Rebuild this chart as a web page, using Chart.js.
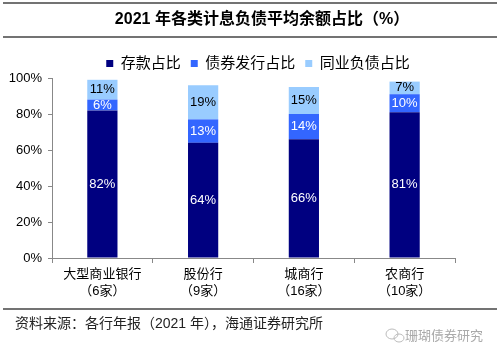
<!DOCTYPE html>
<html><head><meta charset="utf-8">
<script src="https://cdn.jsdelivr.net/npm/chart.js@4"></script>
<style>html,body{margin:0;padding:0;background:#fff;}#wrap{position:relative;width:500px;height:357px;}</style>
</head><body><div id="wrap"><canvas id="c" width="500" height="357"></canvas></div>
<script>
const categories = [['大型商业银行','（6家）'],['股份行','（9家）'],['城商行','（16家）'],['农商行','（10家）']];
const deposits = [82, 64, 66, 81];
const bonds = [6, 13, 14, 10];
const interbank = [11, 19, 15, 7];
const seriesNames = ['存款占比','债券发行占比','同业负债占比'];
const yTicks = [0, 20, 40, 60, 80, 100];
const titleText = '2021 年各类计息负债平均余额占比（%）';
const sourceText = '资料来源：各行年报（2021 年），海通证券研究所';
const watermark = '珊瑚债券研究';

const FONT = '"Liberation Sans", "Noto Sans CJK SC", sans-serif';

const decor = {
  id: 'decor',
  afterDraw(chart) {
    const ctx = chart.ctx;
    ctx.save();
    ctx.strokeStyle = '#444';
    ctx.lineWidth = 1.5;
    [3, 37, 309].forEach(y => { ctx.beginPath(); ctx.moveTo(3, y); ctx.lineTo(497, y); ctx.stroke(); });
    ctx.fillStyle = '#000';
    ctx.font = 'bold 16px ' + FONT;
    ctx.textBaseline = 'middle';
    ctx.textAlign = 'center';
    ctx.fillText(titleText, 262, 20);
    ctx.textAlign = 'left';
    ctx.fillStyle = '#222';
    ctx.font = '14px ' + FONT;
    ctx.fillText(sourceText, 15, 324);
    ctx.fillStyle = '#aaa';
    ctx.font = '13px ' + FONT;
    ctx.fillText(watermark, 405, 336);
    ctx.strokeStyle = '#bbb'; ctx.lineWidth = 1;
    ctx.beginPath(); ctx.ellipse(392, 334, 6, 5, 0, 0, Math.PI*2); ctx.stroke();
    ctx.beginPath(); ctx.ellipse(399, 338, 5, 4, 0, 0, Math.PI*2); ctx.stroke();
    ctx.restore();
  }
};

const valueLabels = {
  id: 'valueLabels',
  afterDatasetsDraw(chart) {
    const ctx = chart.ctx;
    ctx.save();
    ctx.font = '13px ' + FONT;
    ctx.textAlign = 'center';
    ctx.textBaseline = 'middle';
    chart.data.datasets.forEach((ds, di) => {
      const meta = chart.getDatasetMeta(di);
      meta.data.forEach((bar, i) => {
        const v = ds.data[i];
        ctx.fillStyle = di === 2 ? '#000' : '#fff';
        ctx.fillText(v + '%', bar.x, (bar.y + bar.base) / 2);
      });
    });
    ctx.restore();
  }
};

const legendFit = {
  id: 'legendFit',
  afterInit(chart) {
    if (chart.legend) {
      const origFit = chart.legend.fit.bind(chart.legend);
      chart.legend.fit = function() { origFit(); this.height = 32; };
    }
  },
  afterLayout(chart) {
    if (chart.legend) { chart.legend.left = 31; chart.legend.right = 485; }
  }
};

new Chart(document.getElementById('c'), {
  type: 'bar',
  data: {
    labels: categories,
    datasets: [
      { label: seriesNames[0], data: deposits, backgroundColor: '#000080' },
      { label: seriesNames[1], data: bonds, backgroundColor: '#3366FF' },
      { label: seriesNames[2], data: interbank, backgroundColor: '#99CCFF' }
    ]
  },
  options: {
    responsive: false,
    animation: false,
    layout: { padding: { top: 46, left: 0, right: 45, bottom: 0 } },
    datasets: { bar: { categoryPercentage: 1, barPercentage: 0.3 } },
    plugins: {
      title: { display: false },
      legend: {
        display: true,
        labels: { color: '#000', font: { family: FONT, size: 15 }, boxWidth: 7, boxHeight: 7, padding: 10 },
      },
      tooltip: { enabled: false }
    },
    scales: {
      x: {
        stacked: true,
        grid: { display: true, drawOnChartArea: false, drawTicks: true, tickLength: 5, color: '#888', offset: true },
        border: { display: true, color: '#888', width: 1 },
        ticks: { color: '#000', font: { family: FONT, size: 13, lineHeight: 1.3 }, padding: 3, maxRotation: 0, autoSkip: false },
        afterFit(s) { s.height = 99; }
      },
      y: {
        stacked: true,
        min: 0, max: 100,
        afterBuildTicks(s) { s.ticks = yTicks.map(v => ({ value: v })); },
        grid: { display: true, drawOnChartArea: false, drawTicks: true, tickLength: 4, color: '#888' },
        border: { display: true, color: '#888', width: 1 },
        ticks: { color: '#000', font: { family: FONT, size: 13 }, padding: 6, callback: v => v + '%' },
        afterFit(s) { s.width = 52; }
      }
    }
  },
  plugins: [decor, valueLabels, legendFit]
});
</script></body></html>
